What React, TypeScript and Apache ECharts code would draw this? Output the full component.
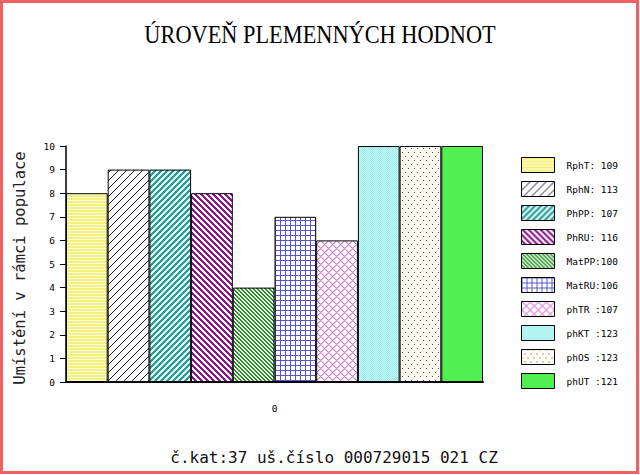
import { useEffect, useRef } from 'react';
import * as echarts from 'echarts';

const categories = ['0'];
const legendLabels = [
  'RphT: 109', 'RphN: 113', 'PhPP: 107', 'PhRU: 116', 'MatPP:100',
  'MatRU:106', 'phTR :107', 'phKT :123', 'phOS :123', 'phUT :121'
];
const placements = [8, 9, 9, 8, 4, 7, 6, 10, 10, 10];
const yTicks = { min: 0, max: 10, step: 1 };

const MONO = '"DejaVu Sans Mono", monospace';

type PixelFn = (x: number, y: number) => string | null;

// small repeating bitmap, used as bar fill
function bitmap(w: number, h: number, bg: string, px: PixelFn) {
  const c = document.createElement('canvas');
  c.width = w;
  c.height = h;
  const ctx = c.getContext('2d')!;
  ctx.fillStyle = bg;
  ctx.fillRect(0, 0, w, h);
  for (let y = 0; y < h; y++) {
    for (let x = 0; x < w; x++) {
      const col = px(x, y);
      if (col) {
        ctx.fillStyle = col;
        ctx.fillRect(x, y, 1, 1);
      }
    }
  }
  return { image: c, repeat: 'repeat', imageWidth: w, imageHeight: h } as any;
}

const mod = (a: number, m: number) => ((a % m) + m) % m;

function buildFills() {
  return [
    bitmap(4, 3, '#fffde2', (x, y) => (y < 2 ? '#f5f17a' : null)),
    bitmap(8, 8, '#ffffff', (x, y) => (mod(x + y, 8) === 0 ? '#14143a' : null)),
    bitmap(6, 6, '#dcfcfa', (x, y) => (mod(x + y, 6) < 3 ? '#2f9c96' : null)),
    bitmap(6, 6, '#ffffff', (x, y) => (mod(x - y, 6) < 3 ? '#8e168e' : null)),
    bitmap(4, 4, '#eefcee', (x, y) => (mod(x - y, 4) < 2 ? '#2a8c2a' : null)),
    bitmap(5, 5, '#ffffff', (x, y) => (x === 0 || y === 0 ? '#5a58c8' : null)),
    bitmap(8, 8, '#ffffff', (x, y) => {
      const a = mod(x + y, 8);
      const b = mod(x - y, 8);
      if (a === 0 || b === 0) return '#d27ad2';
      if (a === 1 || b === 1) return '#efc6ef';
      return null;
    }),
    bitmap(2, 2, '#cdf9f9', (x, y) => ((x + y) % 2 === 0 ? '#94eeee' : null)),
    bitmap(6, 8, '#fffbf2', (x, y) => ((x === 0 && y === 0) || (x === 3 && y === 4) ? '#505050' : null)),
    '#50f050'
  ];
}

function buildOption(): echarts.EChartsOption {
  const fills = buildFills();
  return {
    animation: false,
    backgroundColor: '#ffffff',
    grid: { left: 66, right: 157, top: 146, bottom: 93 },
    legend: {
      orient: 'vertical',
      left: 521,
      top: 157,
      padding: 0,
      itemWidth: 33,
      itemHeight: 15,
      itemGap: 8,
      icon: 'rect',
      data: legendLabels,
      itemStyle: { borderColor: '#000', borderWidth: 1 },
      textStyle: { fontFamily: MONO, fontSize: 9.5, color: '#000', padding: [0, 0, 0, 7] }
    },
    xAxis: {
      type: 'category',
      data: categories,
      axisLine: { lineStyle: { color: '#000', width: 2 } },
      axisTick: { show: false },
      axisLabel: { margin: 21, fontFamily: MONO, fontSize: 9.5, color: '#000' }
    },
    yAxis: {
      type: 'value',
      min: yTicks.min,
      max: yTicks.max,
      interval: yTicks.step,
      name: 'Umístění v rámci populace',
      nameLocation: 'middle',
      nameGap: 38,
      nameTextStyle: { fontFamily: MONO, fontSize: 15.5, color: '#222', padding: [0, 0, 0, -8] },
      axisLine: { show: true, lineStyle: { color: '#000', width: 1.5 } },
      axisTick: { show: true, length: 6, lineStyle: { color: '#000' } },
      axisLabel: { margin: 11, fontFamily: MONO, fontSize: 9.5, color: '#000' },
      splitLine: { show: false }
    },
    series: legendLabels.map((name, i) => ({
      type: 'bar' as const,
      name,
      data: [placements[i]],
      barGap: '0%',
      barCategoryGap: '0%',
      itemStyle: { color: fills[i], borderColor: '#000', borderWidth: 1 }
    })),
    graphic: [
      {
        type: 'rect',
        shape: { x: 1.5, y: 1.5, width: 636, height: 471 },
        style: { fill: 'none', stroke: '#f06262', lineWidth: 3 },
        silent: true
      },
      {
        type: 'text',
        x: 320,
        y: 34,
        scaleX: 0.86,
        style: {
          text: 'ÚROVEŇ PLEMENNÝCH HODNOT',
          fontFamily: '"Liberation Serif", serif',
          fontSize: 26,
          fill: '#000',
          textAlign: 'center',
          textVerticalAlign: 'middle'
        } as any
      },
      {
        type: 'text',
        x: 334,
        y: 457,
        style: {
          text: 'č.kat:37 uš.číslo 000729015 021 CZ',
          fontFamily: MONO,
          fontSize: 16,
          fill: '#111',
          textAlign: 'center',
          textVerticalAlign: 'middle'
        } as any
      }
    ]
  };
}

export default function App() {
  const ref = useRef<HTMLDivElement | null>(null);

  useEffect(() => {
    if (!ref.current) return;
    const chart = echarts.init(ref.current, undefined, { renderer: 'svg' });
    chart.setOption(buildOption());
    return () => chart.dispose();
  }, []);

  return (
    <div
      ref={ref}
      style={{ position: 'absolute', left: 0, top: 0, width: 640, height: 475 }}
    />
  );
}
